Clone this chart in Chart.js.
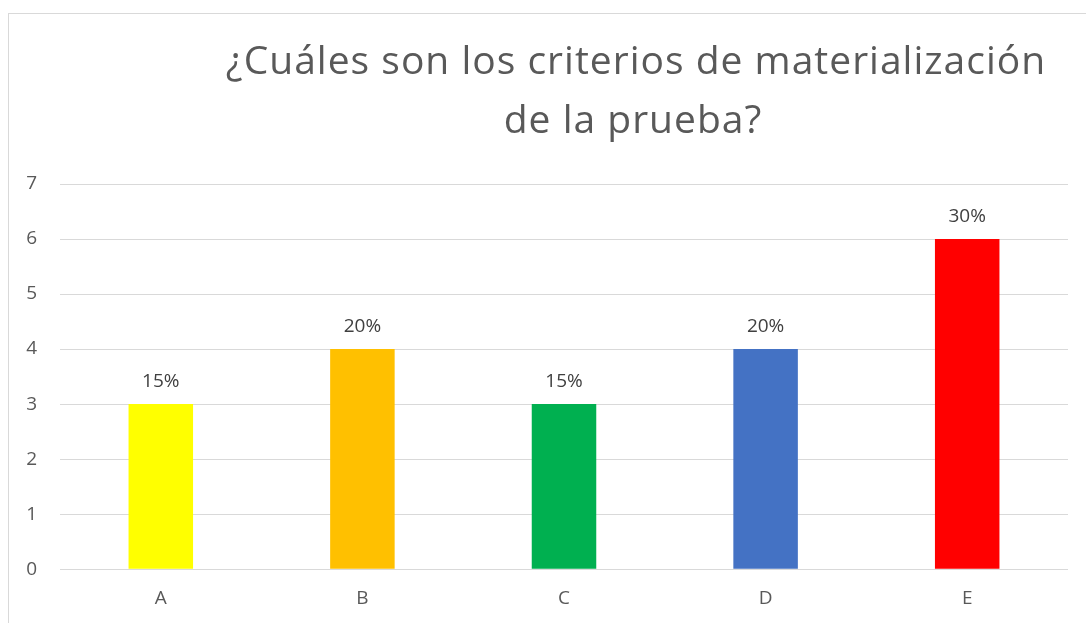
<!DOCTYPE html>
<html>
<head>
<meta charset="utf-8">
<script src="https://cdn.jsdelivr.net/npm/chart.js@4.4.0/dist/chart.umd.min.js"></script>
<style>
  body { margin: 0; background: #fff; overflow: hidden; }
  #box {
    position: absolute; left: 8px; top: 13px;
    width: 1254px; height: 658px;
    border: 1px solid #d9d9d9;
  }
  canvas { display: block; }
</style>
</head>
<body>
<div id="box"><canvas id="chart" width="1254" height="658"></canvas></div>
<script>
const titleLines = ["¿Cuáles son los criterios de materialización", "de la prueba?"];
const categories = ["A", "B", "C", "D", "E"];
const counts = [3, 4, 3, 4, 6];
const percentLabels = ["15%", "20%", "15%", "20%", "30%"];
const barColors = ["#FFFF00", "#FFC000", "#00B050", "#4472C4", "#FF0000"];

// título centrado sobre todo el gráfico (no solo el área de datos)
const chartTitle = {
  id: "chartTitle",
  afterDraw(chart) {
    const ctx = chart.ctx;
    ctx.save();
    ctx.font = "39px 'Open Sans'";
    ctx.fillStyle = "#595959";
    ctx.textAlign = "center";
    ctx.textBaseline = "alphabetic";
    if ("letterSpacing" in ctx) ctx.letterSpacing = "1px";
    ctx.fillText(titleLines[0], 627, 60);
    ctx.fillText(titleLines[1], 624, 119);
    ctx.restore();
  },
};

// etiquetas encima de cada barra
const barLabels = {
  id: "barLabels",
  afterDatasetsDraw(chart) {
    const ctx = chart.ctx;
    const meta = chart.getDatasetMeta(0);
    ctx.save();
    ctx.font = "19px 'Open Sans'";
    ctx.fillStyle = "#404040";
    ctx.textAlign = "center";
    ctx.textBaseline = "alphabetic";
    meta.data.forEach((bar, i) => {
      ctx.fillText(percentLabels[i], bar.x, bar.y - 17);
    });
    ctx.restore();
  },
};

const ctx = document.getElementById("chart").getContext("2d");
const chart = new Chart(ctx, {
  type: "bar",
  data: {
    labels: categories,
    datasets: [
      {
        data: counts,
        backgroundColor: barColors,
        barPercentage: 0.32,
        categoryPercentage: 1,
      },
    ],
  },
  options: {
    responsive: false,
    animation: false,
    layout: {
      padding: { left: 0, right: 195, top: 170, bottom: 44 },
    },
    plugins: {
      legend: { display: false },
      tooltip: { enabled: false },
      title: { display: false },
    },
    scales: {
      x: {
        grid: { display: false, drawTicks: false },
        border: { display: false },
        ticks: {
          color: "#595959",
          font: { family: "'Open Sans'", size: 19 },
          padding: 18,
        },
      },
      y: {
        min: 0,
        max: 7,
        afterFit(scale) {
          scale.width = 51;
        },
        grid: { color: "#d9d9d9", lineWidth: 1, drawTicks: false },
        border: { display: false },
        ticks: {
          stepSize: 1,
          color: "#595959",
          font: { family: "'Open Sans'", size: 19 },
          padding: 23,
        },
      },
    },
  },
  plugins: [barLabels, chartTitle],
});
</script>
</body>
</html>
